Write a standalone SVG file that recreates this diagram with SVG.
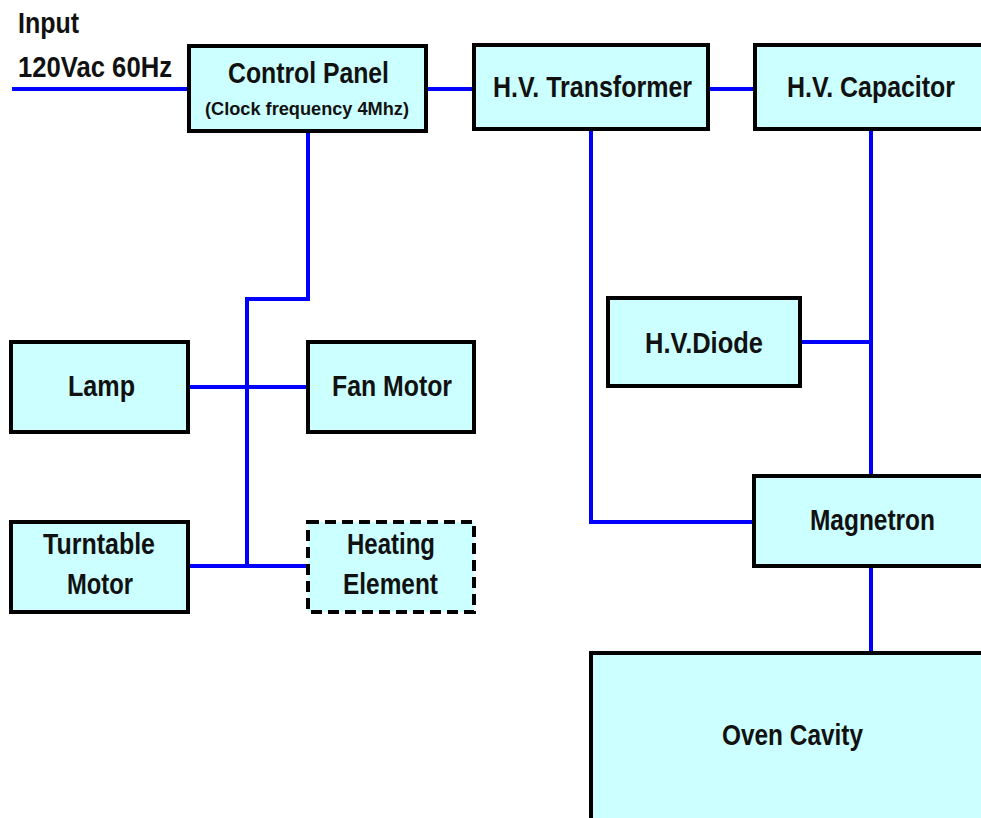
<svg xmlns="http://www.w3.org/2000/svg" width="981" height="818" viewBox="0 0 981 818">
<style>
.box{fill:#ccffff;stroke:#000;stroke-width:4}
.dash{stroke-dasharray:11 6}
.t{font-family:"Liberation Sans",Arial,sans-serif;font-weight:bold;font-size:29px;fill:#111}
.s{font-size:19px}
.w{fill:none;stroke:#0000ff;stroke-width:4}
</style>
<rect width="981" height="818" fill="#fff"/>
<g id="connectors">
<path class="w" d="M12 89H189"/>
<path class="w" d="M428 89H472"/>
<path class="w" d="M710 89H753" stroke-width="5"/>
<path class="w" d="M308 133V299H247V567"/>
<path class="w" d="M190 387H306"/>
<path class="w" d="M190 566H306"/>
<path class="w" d="M591 131V522H752"/>
<path class="w" d="M871 131V474" stroke-width="3"/>
<path class="w" d="M802 342H871" stroke-width="5"/>
<path class="w" d="M871 568V651" stroke-width="3"/>
</g>
<g id="input-label">
<text class="t" x="18" y="33" textLength="61" lengthAdjust="spacingAndGlyphs">Input</text>
<text class="t" x="18" y="77" textLength="154" lengthAdjust="spacingAndGlyphs">120Vac 60Hz</text>
</g>
<g id="control-panel">
<rect class="box" x="189" y="46" width="237" height="85"/>
<text class="t" x="228" y="83" textLength="161" lengthAdjust="spacingAndGlyphs">Control Panel</text>
<text class="t s" x="205" y="115" textLength="204" lengthAdjust="spacingAndGlyphs">(Clock frequency 4Mhz)</text>
</g>
<g id="hv-transformer">
<rect class="box" x="474" y="45" width="234" height="84"/>
<text class="t" x="493" y="97" textLength="199" lengthAdjust="spacingAndGlyphs">H.V. Transformer</text>
</g>
<g id="hv-capacitor">
<rect class="box" x="755" y="45" width="240" height="84"/>
<text class="t" x="787" y="97" textLength="168" lengthAdjust="spacingAndGlyphs">H.V. Capacitor</text>
</g>
<g id="lamp">
<rect class="box" x="11" y="342" width="177" height="90"/>
<text class="t" x="68" y="396" textLength="67" lengthAdjust="spacingAndGlyphs">Lamp</text>
</g>
<g id="fan-motor">
<rect class="box" x="308" y="342" width="166" height="90"/>
<text class="t" x="332" y="396" textLength="120" lengthAdjust="spacingAndGlyphs">Fan Motor</text>
</g>
<g id="turntable-motor">
<rect class="box" x="11" y="522" width="177" height="90"/>
<text class="t" x="43" y="554" textLength="112" lengthAdjust="spacingAndGlyphs">Turntable</text>
<text class="t" x="67" y="594" textLength="66" lengthAdjust="spacingAndGlyphs">Motor</text>
</g>
<g id="heating-element">
<rect class="box dash" x="308" y="522" width="166" height="90"/>
<text class="t" x="347" y="554" textLength="88" lengthAdjust="spacingAndGlyphs">Heating</text>
<text class="t" x="343" y="594" textLength="95" lengthAdjust="spacingAndGlyphs">Element</text>
</g>
<g id="hv-diode">
<rect class="box" x="608" y="298" width="192" height="88"/>
<text class="t" x="645" y="353" textLength="118" lengthAdjust="spacingAndGlyphs">H.V.Diode</text>
</g>
<g id="magnetron">
<rect class="box" x="754" y="476" width="240" height="90"/>
<text class="t" x="810" y="530" textLength="125" lengthAdjust="spacingAndGlyphs">Magnetron</text>
</g>
<g id="oven-cavity">
<rect class="box" x="591" y="653" width="400" height="200"/>
<text class="t" x="722" y="745" textLength="141" lengthAdjust="spacingAndGlyphs">Oven Cavity</text>
</g>
</svg>
